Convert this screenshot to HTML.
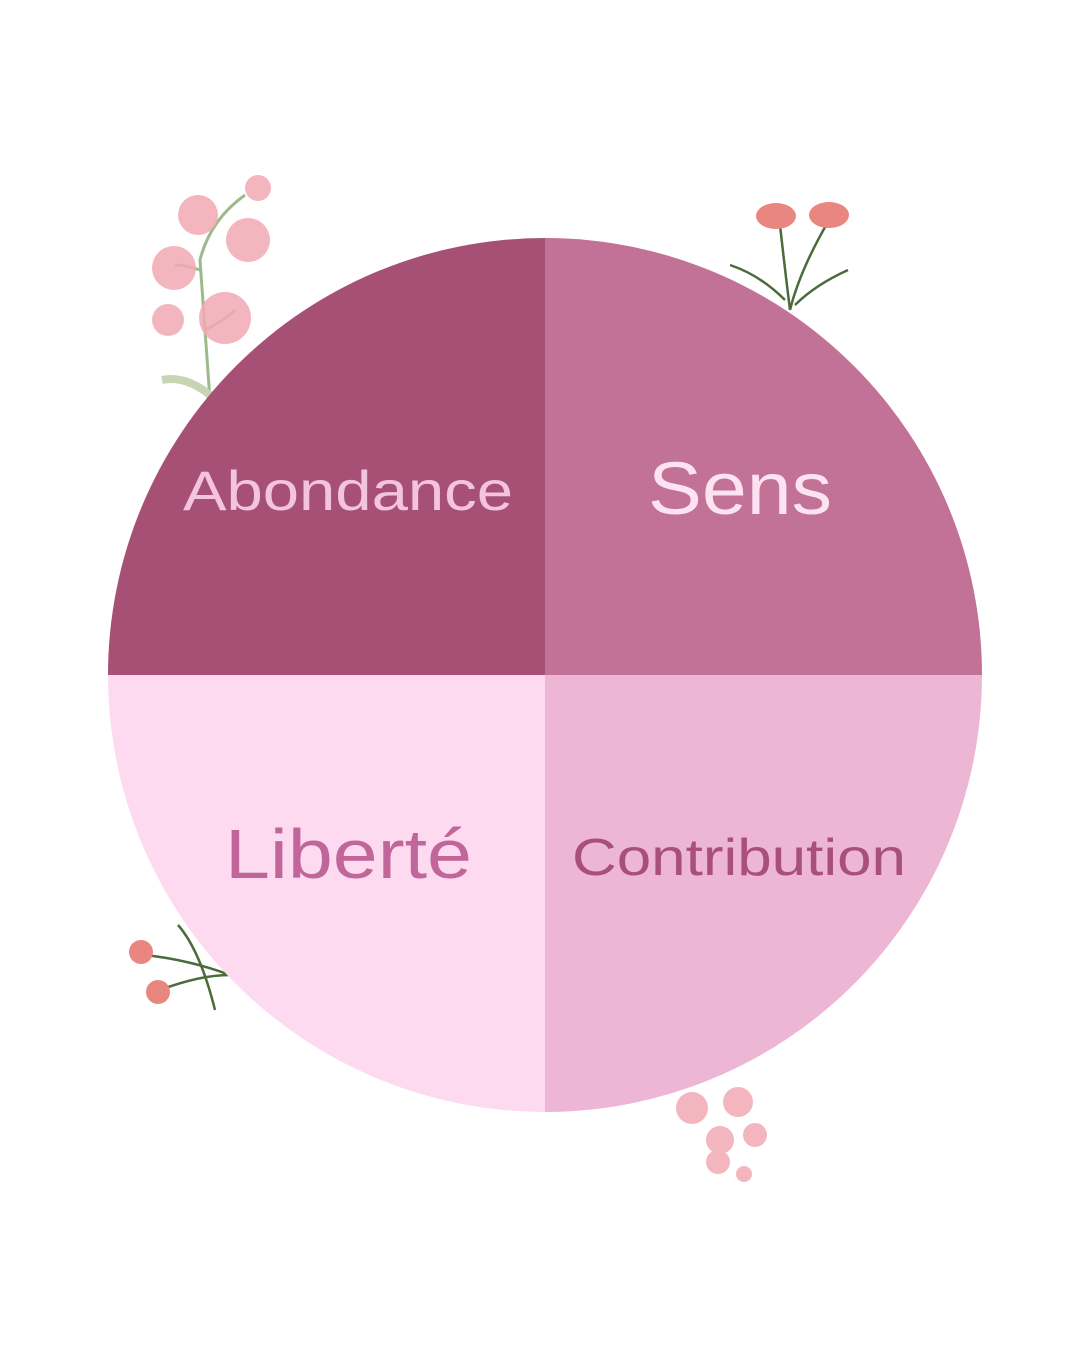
<!DOCTYPE html>
<html><head><meta charset="utf-8"><style>
html,body{margin:0;padding:0;background:#fff;}
body{width:1080px;height:1350px;overflow:hidden;}
</style></head><body>
<svg width="1080" height="1350" viewBox="0 0 1080 1350" xmlns="http://www.w3.org/2000/svg">
<g stroke="#9dbb8a" stroke-width="3" fill="none">
<path d="M210 400 Q205 330 200 260 Q210 220 245 195"/>
<path d="M205 330 Q225 320 235 310"/><path d="M200 270 Q185 265 175 265"/>
</g>
<g fill="#f3aab3" opacity="0.85">
<circle cx="198" cy="215" r="20"/><circle cx="258" cy="188" r="13"/><circle cx="248" cy="240" r="22"/>
<circle cx="174" cy="268" r="22"/><circle cx="225" cy="318" r="26"/><circle cx="168" cy="320" r="16"/>
</g>
<path d="M162 380 Q185 375 210 395" stroke="#c9d4b4" stroke-width="8" fill="none"/>
<g stroke="#4a6b3a" stroke-width="2.5" fill="none">
<path d="M780 225 Q785 270 790 310"/><path d="M828 222 Q800 270 790 310"/>
<path d="M730 265 Q760 275 785 300"/><path d="M848 270 Q815 285 795 305"/>
</g>
<g fill="#e8867f"><ellipse cx="776" cy="216" rx="20" ry="13"/><ellipse cx="829" cy="215" rx="20" ry="13"/></g>
<g stroke="#4a6b3a" stroke-width="2.5" fill="none">
<path d="M145 955 Q190 960 230 975"/><path d="M160 990 Q200 975 230 975"/><path d="M178 925 Q200 950 215 1010"/>
</g>
<g fill="#e8867f"><circle cx="141" cy="952" r="12"/><circle cx="158" cy="992" r="12"/></g>
<g fill="#f3aab3" opacity="0.85">
<circle cx="692" cy="1108" r="16"/><circle cx="738" cy="1102" r="15"/><circle cx="720" cy="1140" r="14"/>
<circle cx="755" cy="1135" r="12"/><circle cx="718" cy="1162" r="12"/><circle cx="744" cy="1174" r="8"/>
</g>
<path d="M545 675 L108 675 A437 437 0 0 1 545 238 Z" fill="#a65076"/>
<path d="M545 675 L545 238 A437 437 0 0 1 982 675 Z" fill="#c27297"/>
<path d="M545 675 L108 675 A437 437 0 0 0 545 1112 Z" fill="#fddaf0"/>
<path d="M545 675 L982 675 A437 437 0 0 1 545 1112 Z" fill="#ecb6d4"/>
<g font-family="Liberation Sans, sans-serif" lengthAdjust="spacingAndGlyphs">
<text x="183" y="510" font-size="56" fill="#f4c4df" textLength="330" lengthAdjust="spacingAndGlyphs">Abondance</text>
<text x="648" y="514" font-size="74" fill="#fde2f1" textLength="184" lengthAdjust="spacingAndGlyphs">Sens</text>
<text x="225" y="878" font-size="70" fill="#c0669a" textLength="247" lengthAdjust="spacingAndGlyphs">Liberté</text>
<text x="572" y="875" font-size="52" fill="#a8507a" textLength="334" lengthAdjust="spacingAndGlyphs">Contribution</text>
</g>
</svg>
</body></html>
